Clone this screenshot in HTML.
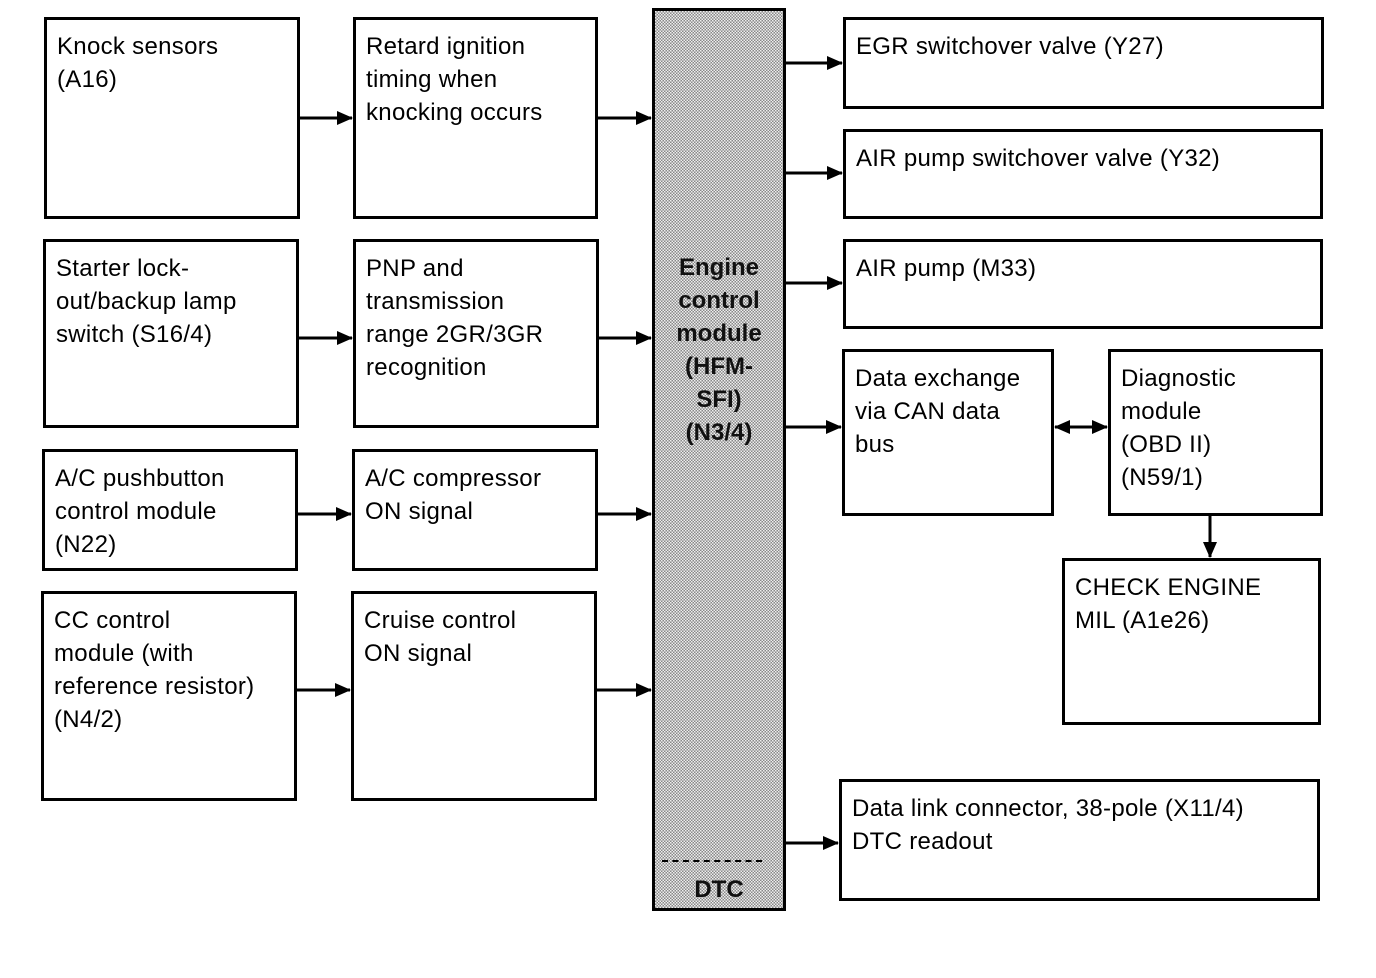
<!DOCTYPE html>
<html><head><style>
body{margin:0;background:#fff;width:1376px;height:978px;position:relative;overflow:hidden;font-family:"Liberation Sans",sans-serif;}
.b{position:absolute;border:3px solid #000;box-sizing:border-box;font-size:24px;line-height:33px;padding:10px 0 0 10px;color:#000;letter-spacing:0.3px}
.m{position:absolute;left:652px;top:8px;width:134px;height:903px;border:3px solid #000;box-sizing:border-box;
background-color:#bbb;background-image:repeating-conic-gradient(#888 0 25%,#eee 0 50%);background-size:3px 3px;
text-align:center;font-size:24px;line-height:33px;padding-top:240px;color:#111;font-weight:bold}
svg{position:absolute;left:0;top:0}
</style></head><body>
<div class="b" style="left:44px;top:17px;width:256px;height:202px">Knock sensors<br>(A16)</div>
<div class="b" style="left:43px;top:239px;width:256px;height:189px">Starter lock-<br>out/backup lamp<br>switch (S16/4)</div>
<div class="b" style="left:42px;top:449px;width:256px;height:122px">A/C pushbutton<br>control module<br>(N22)</div>
<div class="b" style="left:41px;top:591px;width:256px;height:210px">CC control<br>module (with<br>reference resistor)<br>(N4/2)</div>
<div class="b" style="left:353px;top:17px;width:245px;height:202px">Retard ignition<br>timing when<br>knocking occurs</div>
<div class="b" style="left:353px;top:239px;width:246px;height:189px">PNP and<br>transmission<br>range 2GR/3GR<br>recognition</div>
<div class="b" style="left:352px;top:449px;width:246px;height:122px">A/C compressor<br>ON signal</div>
<div class="b" style="left:351px;top:591px;width:246px;height:210px">Cruise control<br>ON signal</div>
<div class="m">Engine<br>control<br>module<br>(HFM-<br>SFI)<br>(N3/4)</div>
<div style="position:absolute;left:662px;top:860px;width:100px;border-top:2px dashed #000"></div>
<div style="position:absolute;left:652px;top:876px;width:134px;text-align:center;font-size:24px;color:#111;font-weight:bold">DTC</div>
<div class="b" style="left:843px;top:17px;width:481px;height:92px">EGR switchover valve (Y27)</div>
<div class="b" style="left:843px;top:129px;width:480px;height:90px">AIR pump switchover valve (Y32)</div>
<div class="b" style="left:843px;top:239px;width:480px;height:90px">AIR pump (M33)</div>
<div class="b" style="left:842px;top:349px;width:212px;height:167px">Data exchange<br>via CAN data<br>bus</div>
<div class="b" style="left:1108px;top:349px;width:215px;height:167px">Diagnostic<br>module<br>(OBD II)<br>(N59/1)</div>
<div class="b" style="left:1062px;top:558px;width:259px;height:167px">CHECK ENGINE<br>MIL (A1e26)</div>
<div class="b" style="left:839px;top:779px;width:481px;height:122px">Data link connector, 38-pole (X11/4)<br>DTC readout</div>
<svg width="1376" height="978">
<defs><marker id="a" markerWidth="16" markerHeight="16" refX="15" refY="8" orient="auto" markerUnits="userSpaceOnUse"><path d="M0,1L16,8L0,15z" fill="#000"/></marker></defs>
<g stroke="#000" stroke-width="3" marker-end="url(#a)">
<line x1="300" y1="118" x2="352" y2="118"/>
<line x1="299" y1="338" x2="352" y2="338"/>
<line x1="298" y1="514" x2="351" y2="514"/>
<line x1="297" y1="690" x2="350" y2="690"/>
<line x1="598" y1="118" x2="651" y2="118"/>
<line x1="599" y1="338" x2="651" y2="338"/>
<line x1="598" y1="514" x2="651" y2="514"/>
<line x1="597" y1="690" x2="651" y2="690"/>
<line x1="786" y1="63" x2="842" y2="63"/>
<line x1="786" y1="173" x2="842" y2="173"/>
<line x1="786" y1="283" x2="842" y2="283"/>
<line x1="786" y1="427" x2="841" y2="427"/>
<line x1="786" y1="843" x2="838" y2="843"/>
<line x1="1210" y1="515" x2="1210" y2="557"/>
<line x1="1075" y1="427" x2="1107" y2="427"/>
<line x1="1085" y1="427" x2="1055" y2="427"/>
</g></svg>
</body></html>
